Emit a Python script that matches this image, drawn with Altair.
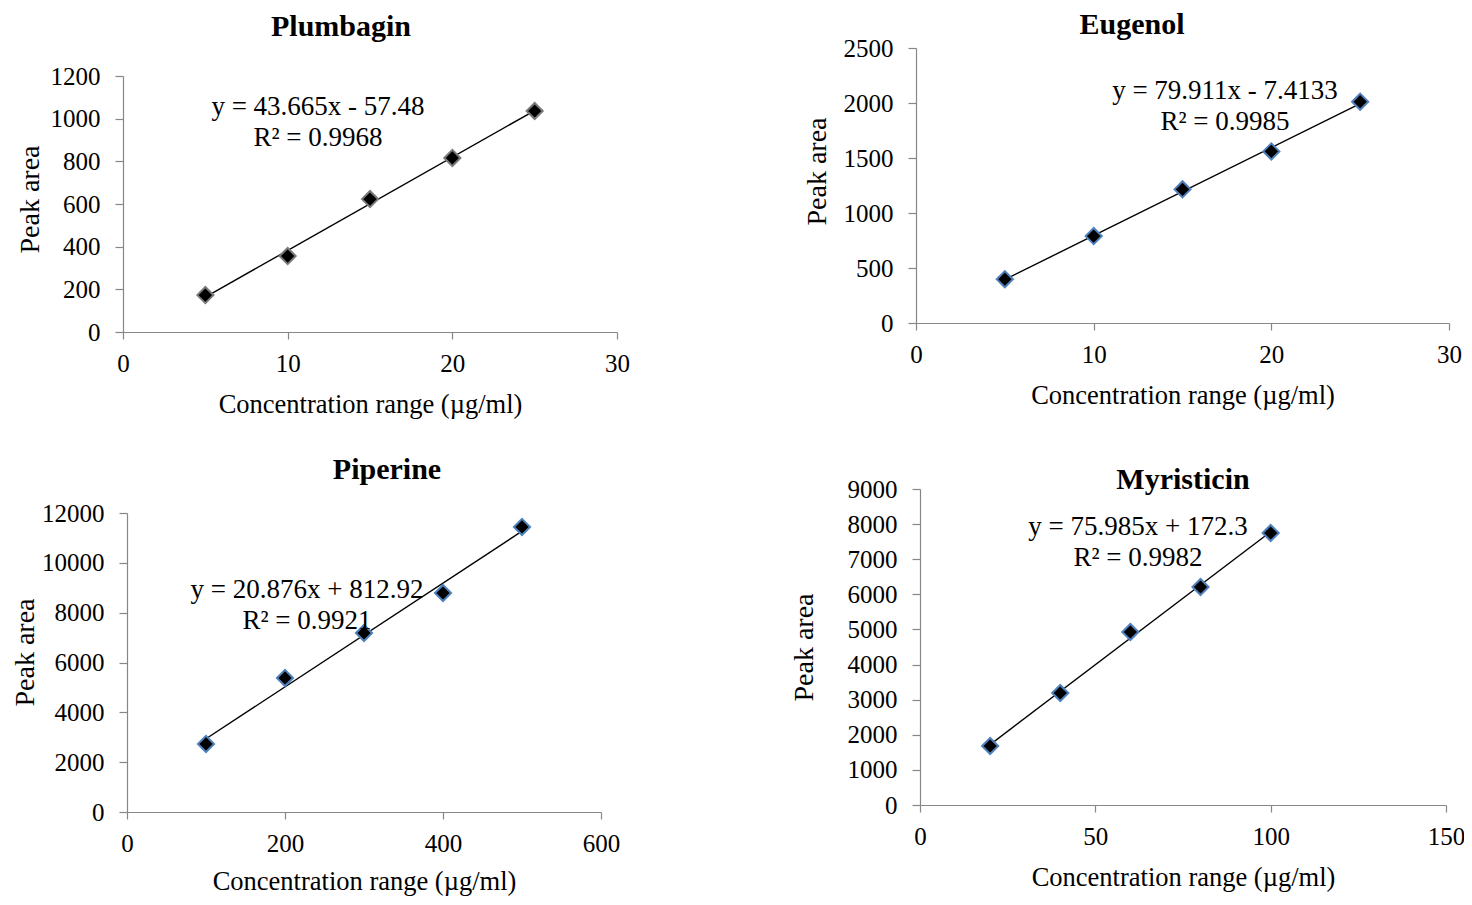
import altair as alt
import pandas as pd

FONT = "Liberation Serif"

# ---------------- data ----------------
titles = ["Plumbagin", "Eugenol", "Piperine", "Myristicin"]
x_plumbagin = [5, 10, 15, 20, 25]
y_plumbagin = [173, 356, 623, 816, 1036]
x_eugenol = [5, 10, 15, 20, 25]
y_eugenol = [398, 790, 1215, 1560, 2012]
x_piperine = [100, 200, 300, 400, 500]
y_piperine = [2730, 5380, 7185, 8790, 11440]
x_myristicin = [20, 40, 60, 80, 100]
y_myristicin = [1680, 3190, 4927, 6209, 7747]
equations = ["y = 43.665x - 57.48", "y = 79.911x - 7.4133",
             "y = 20.876x + 812.92", "y = 75.985x + 172.3"]
r_squared = ["R² = 0.9968", "R² = 0.9985", "R² = 0.9921", "R² = 0.9982"]
x_ticks = [[0, 10, 20, 30], [0, 10, 20, 30], [0, 200, 400, 600], [0, 50, 100, 150]]
y_ticks = [[0, 200, 400, 600, 800, 1000, 1200],
           [0, 500, 1000, 1500, 2000, 2500],
           [0, 2000, 4000, 6000, 8000, 10000, 12000],
           [0, 1000, 2000, 3000, 4000, 5000, 6000, 7000, 8000, 9000]]
x_title = "Concentration range (µg/ml)"
y_title = "Peak area"

# ---------------- layout (styles, chart pixels) ----------------
W, H = 1456, 889
boxes = [(115, 609, 68, 324), (908, 1441, 40, 315), (119, 593, 505, 804), (912, 1438, 481, 797)]
title_pos = [(333, 19), (1124, 17), (379, 462), (1175, 472)]
eq_pos = [(310, 99), (1217, 83), (299, 582), (1130, 519)]
eq_gap = 31
ytitle_x = [-85, -91, -94, -108]      # relative to each y axis
ytitle_y = [191, 163, 644, 639]
xtitle_pad = [15, 15, 12, 15]
marker_stroke = ["#7a7a7a", "#4f81bd", "#4f81bd", "#4f81bd"]

series = [(x_plumbagin, y_plumbagin), (x_eugenol, y_eugenol),
          (x_piperine, y_piperine), (x_myristicin, y_myristicin)]


def panel(i):
    xs, ys = series[i]
    left, right, top, bottom = boxes[i]
    df = pd.DataFrame({"x": xs, "y": ys})
    xenc = alt.X("x:Q",
                 scale=alt.Scale(domain=[x_ticks[i][0], x_ticks[i][-1]], range=[left, right], nice=False, zero=False),
                 axis=alt.Axis(orient="bottom", offset=bottom - H, values=x_ticks[i], format="d", title=x_title,
                               titlePadding=xtitle_pad[i]))
    yenc = alt.Y("y:Q",
                 scale=alt.Scale(domain=[y_ticks[i][0], y_ticks[i][-1]], range=[bottom, top], nice=False, zero=False),
                 axis=alt.Axis(orient="left", offset=-left, values=y_ticks[i], format="d", title=y_title,
                               titleX=ytitle_x[i], titleY=ytitle_y[i], titleBaseline="alphabetic",
                               titleAlign="center", titleAngle=270))
    base = alt.Chart(df)
    line = base.transform_regression("x", "y").mark_line(color="black", strokeWidth=1.4).encode(x=xenc, y=yenc)
    pts = base.mark_point(shape="diamond", filled=True, fill="black", stroke=marker_stroke[i],
                          strokeWidth=2, size=260, opacity=1).encode(x=xenc, y=yenc)
    tx, ty = title_pos[i]
    ttl = alt.Chart(pd.DataFrame({"t": [titles[i]]})).mark_text(
        font=FONT, fontSize=30, fontWeight="bold", color="black", baseline="middle", align="center"
    ).encode(text="t:N", x=alt.value(tx), y=alt.value(ty))
    ex, ey = eq_pos[i]
    eq1 = alt.Chart(pd.DataFrame({"t": [equations[i]]})).mark_text(
        font=FONT, fontSize=27, color="black", baseline="middle", align="center"
    ).encode(text="t:N", x=alt.value(ex), y=alt.value(ey))
    eq2 = alt.Chart(pd.DataFrame({"t": [r_squared[i]]})).mark_text(
        font=FONT, fontSize=27, color="black", baseline="middle", align="center"
    ).encode(text="t:N", x=alt.value(ex), y=alt.value(ey + eq_gap))
    return alt.layer(line, pts, eq1, eq2, ttl)


chart = alt.layer(*[panel(i) for i in range(4)]).resolve_scale(
    x="independent", y="independent"
).resolve_axis(x="independent", y="independent").properties(
    width=W, height=H, autosize=alt.AutoSizeParams(type="none"), padding=0, background="white"
).configure_view(stroke=None).configure_axis(
    labelFont=FONT, labelFontSize=25, labelColor="black",
    titleFont=FONT, titleFontWeight="normal", titleColor="black",
    domainColor="#878787", tickColor="#878787", domainWidth=1.2, tickWidth=1.2,
    grid=False, labelFlush=False, labelOverlap=False
).configure_axisX(
    labelPadding=12, tickSize=7, titleFontSize=26.5
).configure_axisY(
    labelPadding=15, tickSize=8, titleFontSize=28
)

chart.save("out.html", embed_options={"renderer": "svg", "actions": False})
